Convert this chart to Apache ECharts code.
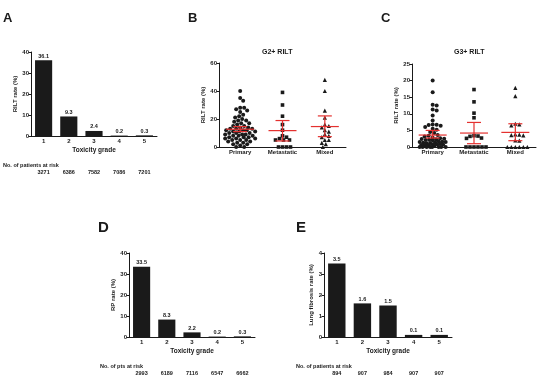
<!DOCTYPE html>
<html>
<head>
<meta charset="utf-8">
<script src="https://cdn.jsdelivr.net/npm/echarts/dist/echarts.min.js"></script>
<style>
  html, body { margin: 0; padding: 0; background: #fff; }
  #chart { width: 538px; height: 383px; }
</style>
</head>
<body>
<div id="chart"></div>
<script>
// toxicity grade bar panels (A, D, E)
var gradeCats = ['1', '2', '3', '4', '5']
var rildRate = [36.1, 9.3, 2.4, 0.2, 0.3]
var rildRisk = ['3271', '6386', '7582', '7086', '7201']
var rpRate = [33.5, 8.3, 2.2, 0.2, 0.3]
var rpRisk = ['2993', '6189', '7116', '6547', '6662']
var fibRate = [3.5, 1.6, 1.5, 0.1, 0.1]
var fibRisk = ['894', '907', '984', '907', '907']

// study-level RILT rates by tumour type (B: G2+, C: G3+)
var groupCats = ['Primary', 'Metastatic', 'Mixed']
var g2Primary = [40, 35, 33, 28, 28, 27, 26, 25, 23, 22, 21, 20, 19, 19, 18, 17, 17, 16, 15, 15,
  14, 14, 13, 13, 13, 12, 12, 12, 11, 11, 11, 10, 10, 10, 9, 9, 9, 8, 8, 8, 7, 7, 7, 6, 6, 6,
  5, 5, 5, 4, 4, 3, 3, 2, 2, 1, 0, 0]
var g2Metastatic = [39, 30, 22, 16, 12, 8, 7, 6, 5, 5, 5, 0, 0, 0, 0]
var g2Mixed = [48, 40, 26, 21, 16, 15, 14, 12, 11, 9, 8, 7, 5, 5, 3, 2, 0]
var g3Primary = [20, 16.5, 12.7, 12.5, 11.3, 11, 9.5, 8, 6.8, 6.7, 6.6, 6.4, 6, 5.5, 5.2, 4.5, 4.2,
  3.6, 3.4, 3.2, 2.8, 2.6, 2.5, 2.4, 2.3, 2.2, 2.1, 2.0, 1.7, 1.6, 1.5, 1.5, 1.4, 1.3, 1.2, 1.1,
  0.9, 0.8, 0.8, 0.7, 0.6, 0.5, 0.5, 0.4, 0, 0, 0, 0, 0, 0, 0, 0]
var g3Metastatic = [17.3, 13.6, 10.2, 8.8, 3.4, 3.3, 3.2, 2.7, 2.6, 0, 0, 0, 0, 0, 0]
var g3Mixed = [17.8, 15.3, 7, 6.8, 6.5, 3.8, 3.7, 3.6, 3.5, 2, 1.9, 0, 0, 0, 0, 0, 0]
// mean, lower CI, upper CI
var g2Stats = [[12.7, 11, 14.6], [11.7, 4.3, 18.9], [14.6, 7.4, 22.2]]
var g3Stats = [[3.6, 2.7, 5.0], [4.2, 1.0, 7.4], [4.4, 1.9, 7.0]]

var font = 'Liberation Sans'
var ink = '#1a1a1a'
var red = '#e4312f'

var grids = [
  { left: 31, top: 52, width: 126, height: 84 },   // A
  { left: 219, top: 63, width: 127, height: 84 },  // B
  { left: 412, top: 64, width: 124, height: 83 },  // C
  { left: 129, top: 253, width: 126, height: 84 }, // D
  { left: 324, top: 253, width: 128, height: 84 }  // E
]

function txt(size) {
  return { fontFamily: font, fontWeight: 'bold', fontSize: size, color: ink }
}

function catAxis(gi, data, name) {
  return {
    type: 'category', gridIndex: gi, data: data,
    name: name, nameLocation: 'middle', nameGap: 11,
    nameTextStyle: txt(6.5),
    axisLine: { lineStyle: { color: ink, width: 1 } },
    axisTick: { alignWithLabel: true, length: 2.5, lineStyle: { color: ink } },
    axisLabel: Object.assign({ margin: 2.5 }, txt(6))
  }
}

function riskAxis(gi, data) {
  return {
    type: 'category', gridIndex: gi, data: data, position: 'bottom', offset: 33,
    axisLine: { show: false }, axisTick: { show: false },
    axisLabel: Object.assign({ margin: 0 }, txt(5.5))
  }
}

function valAxis(gi, max, interval, name, gap) {
  return {
    type: 'value', gridIndex: gi, min: 0, max: max, interval: interval,
    name: name, nameLocation: 'middle', nameGap: gap,
    nameTextStyle: txt(6),
    splitLine: { show: false },
    axisLine: { show: true, lineStyle: { color: ink, width: 1 } },
    axisTick: { show: true, length: 2.5, lineStyle: { color: ink } },
    axisLabel: Object.assign({ margin: 2 }, txt(6))
  }
}

function barSeries(xi, yi, data) {
  return {
    type: 'bar', xAxisIndex: xi, yAxisIndex: yi, data: data, barWidth: '68%',
    itemStyle: { color: '#1a1a1a' },
    label: Object.assign({ show: true, position: 'top', distance: 1 }, txt(5.5))
  }
}

// beeswarm: nearest free horizontal slot, kept within +-half px (overlap when crowded)
function swarm(vals, pxPerUnit, d, half) {
  var placed = []
  return vals.map(function (v) {
    var y = v * pxPerUnit
    var best = 0, bestGap = -1
    for (var k = 0; k <= half * 4; k++) {
      var cand = (k % 2 ? 1 : -1) * Math.ceil(k / 2) * 0.5
      var gap = placed.reduce(function (g, p) {
        return Math.min(g, Math.hypot(p[0] - cand, p[1] - y))
      }, Infinity)
      if (gap >= d) { best = cand; bestGap = gap; break }
      if (gap > bestGap + 0.3) { best = cand; bestGap = gap }
    }
    placed.push([best, y])
    return best
  })
}

var symbols = ['circle', 'rect', 'triangle']
var sizes = [4, 3.6, 4.2]

function dotSeries(xi, yi, groups, pxPerUnit, half) {
  return groups.map(function (vals, i) {
    var off = swarm(vals, pxPerUnit, 3.9, half)
    return {
      type: 'scatter', xAxisIndex: xi, yAxisIndex: yi,
      symbol: symbols[i], symbolSize: sizes[i],
      itemStyle: { color: ink, opacity: 1 },
      data: vals.map(function (v, k) {
        return { value: [i, v], symbolOffset: [off[k], 0] }
      })
    }
  })
}

function ciSeries(xi, yi, stats) {
  return {
    type: 'custom', xAxisIndex: xi, yAxisIndex: yi, z: 10,
    data: stats.map(function (s, i) { return [i, s[0], s[1], s[2]] }),
    renderItem: function (params, api) {
      var m = api.coord([api.value(0), api.value(1)])
      var lo = api.coord([api.value(0), api.value(2)])
      var hi = api.coord([api.value(0), api.value(3)])
      var style = { stroke: red, lineWidth: 1.2 }
      return {
        type: 'group',
        children: [
          { type: 'line', shape: { x1: m[0], y1: hi[1], x2: m[0], y2: lo[1] }, style: style },
          { type: 'line', shape: { x1: m[0] - 14, y1: m[1], x2: m[0] + 14, y2: m[1] }, style: style },
          { type: 'line', shape: { x1: m[0] - 7, y1: hi[1], x2: m[0] + 7, y2: hi[1] }, style: style },
          { type: 'line', shape: { x1: m[0] - 7, y1: lo[1], x2: m[0] + 7, y2: lo[1] }, style: style }
        ]
      }
    }
  }
}

function label(text, x, y, size, align) {
  return {
    type: 'text', left: x, top: y,
    style: { text: text, font: 'bold ' + size + 'px "' + font + '"', fill: ink, textAlign: align || 'left' }
  }
}

var myChart = echarts.init(document.getElementById('chart'))
var option = {
  animation: false,
  grid: grids,
  xAxis: [
    catAxis(0, gradeCats, 'Toxicity grade'),
    riskAxis(0, rildRisk),
    catAxis(1, groupCats, ''),
    catAxis(2, groupCats, ''),
    catAxis(3, gradeCats, 'Toxicity grade'),
    riskAxis(3, rpRisk),
    catAxis(4, gradeCats, 'Toxicity grade'),
    riskAxis(4, fibRisk)
  ],
  yAxis: [
    valAxis(0, 40, 10, 'RILT rate (%)', 12),
    valAxis(1, 60, 20, 'RILT rate (%)', 13),
    valAxis(2, 25, 5, 'RILT rate (%)', 12),
    valAxis(3, 40, 10, 'RP rate (%)', 12),
    valAxis(4, 4, 1, 'Lung fibrosis rate (%)', 8)
  ],
  graphic: [
    label('A', 3, 12, 13),
    label('B', 188, 12, 13),
    label('C', 381, 12, 13),
    label('D', 98, 220, 15),
    label('E', 296, 220, 15),
    label('G2+ RILT', 262, 49, 7),
    label('G3+ RILT', 454, 49, 7),
    label('No. of patients at risk', 3, 162, 5.5),
    label('No. of pts at risk', 100, 363, 5.5),
    label('No. of patients at risk', 296, 363, 5.5)
  ],
  series: [
    barSeries(0, 0, rildRate),
    barSeries(4, 3, rpRate),
    barSeries(6, 4, fibRate)
  ]
    .concat(dotSeries(2, 1, [g2Primary, g2Metastatic, g2Mixed], 84 / 60, 15))
    .concat(dotSeries(3, 2, [g3Primary, g3Metastatic, g3Mixed], 83 / 25, 13))
    .concat([ciSeries(2, 1, g2Stats), ciSeries(3, 2, g3Stats)])
}
myChart.setOption(option, true)
</script>
</body>
</html>
